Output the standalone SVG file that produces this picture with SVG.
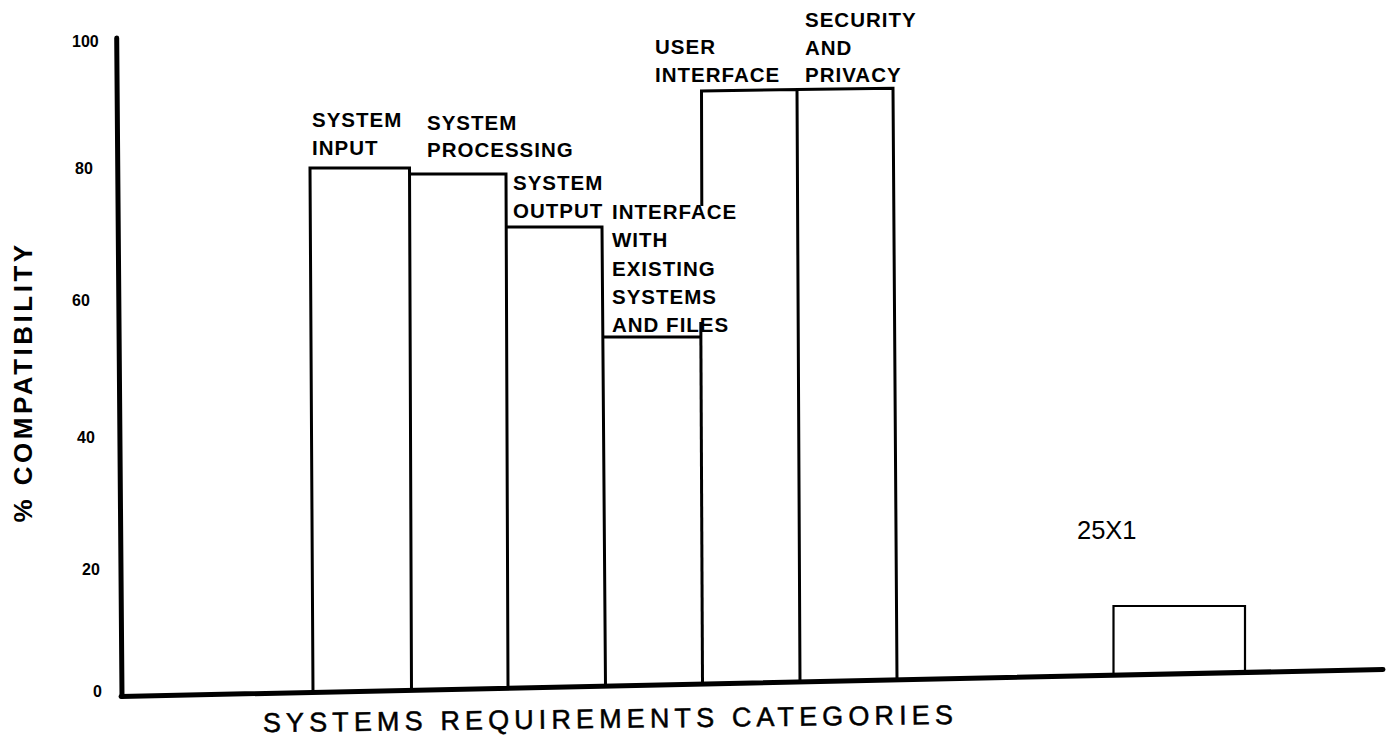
<svg xmlns="http://www.w3.org/2000/svg" width="1389" height="736" viewBox="0 0 1389 736">
<style>
.axis{fill:none;stroke:#000;stroke-width:5;stroke-linecap:round;stroke-linejoin:round}
.bar{fill:none;stroke:#000;stroke-width:3;stroke-linejoin:miter}
.box{fill:none;stroke:#000;stroke-width:2.2}
.lbl{font-family:"Liberation Sans",Arial,Helvetica,sans-serif;font-weight:bold;font-size:20.5px;letter-spacing:1px;fill:#000}
.tick{font-family:"Liberation Sans",Arial,Helvetica,sans-serif;font-weight:bold;font-size:16px;fill:#000}
.ytitle{font-family:"Liberation Sans",Arial,Helvetica,sans-serif;font-weight:bold;font-size:26px;letter-spacing:3.5px;fill:#000}
.xtitle{font-family:"Liberation Sans",Arial,Helvetica,sans-serif;font-size:27px;fill:#000;stroke:#000;stroke-width:0.5}
.code{font-family:"Liberation Sans",Arial,Helvetica,sans-serif;font-size:25.5px;fill:#000}
</style>
<rect width="1389" height="736" fill="#fff"/>

<g id="axes">
  <line class="axis" x1="116.7" y1="38" x2="122" y2="696.5"/>
  <line class="axis" x1="121" y1="696.5" x2="1383" y2="669.5"/>
  <text class="tick" x="72" y="47">100</text>
  <text class="tick" x="75" y="174">80</text>
  <text class="tick" x="72" y="306">60</text>
  <text class="tick" x="77" y="443">40</text>
  <text class="tick" x="82" y="575">20</text>
  <text class="tick" x="93" y="697">0</text>
  <text class="ytitle" x="32" y="382" text-anchor="middle" transform="rotate(-90 32 382)">% COMPATIBILITY</text>
  <text class="xtitle" x="263" y="732" textLength="690" lengthAdjust="spacing" transform="rotate(-0.67 263 732)">SYSTEMS REQUIREMENTS CATEGORIES</text>
</g>

<g id="connectors"></g>

<g id="bar-system-input">
  <path class="bar" d="M313,692 L310,168 L409.5,168 L411.5,690"/>
  <text class="lbl"><tspan x="312" y="127">SYSTEM</tspan><tspan x="312" y="155">INPUT</tspan></text>
</g>

<g id="bar-system-processing">
  <path class="bar" d="M409.5,174 L506,174 L508,688"/>
  <text class="lbl"><tspan x="427" y="130">SYSTEM</tspan><tspan x="427" y="157">PROCESSING</tspan></text>
</g>

<g id="bar-system-output">
  <path class="bar" d="M506.5,227 L602,227 L605.5,686"/>
  <text class="lbl"><tspan x="513" y="190">SYSTEM</tspan><tspan x="513" y="218">OUTPUT</tspan></text>
</g>

<g id="bar-interface-existing">
  <path class="bar" d="M602.5,337 L701,337"/>
  <path class="bar" d="M700.8,322 L702.5,684"/>
  <text class="lbl"><tspan x="612" y="219">INTERFACE</tspan><tspan x="612" y="247">WITH</tspan><tspan x="612" y="276">EXISTING</tspan><tspan x="612" y="304">SYSTEMS</tspan><tspan x="612" y="332">AND FILES</tspan></text>
</g>

<g id="bar-user-interface">
  <path class="bar" d="M701.8,206 L701.5,91 L797,89.5 L800,681.5"/>
  <text class="lbl"><tspan x="655" y="54">USER</tspan><tspan x="655" y="82">INTERFACE</tspan></text>
</g>

<g id="bar-security-privacy">
  <path class="bar" d="M797,89.5 L893,88.3 L897,679.5"/>
  <text class="lbl"><tspan x="805" y="27">SECURITY</tspan><tspan x="805" y="55">AND</tspan><tspan x="805" y="82">PRIVACY</tspan></text>
</g>

<g id="box-25x1">
  <path class="box" d="M1113.5,675 L1113.5,606 L1245,606 L1245,672.5"/>
  <text class="code" x="1077" y="539">25X1</text>
</g>
</svg>
